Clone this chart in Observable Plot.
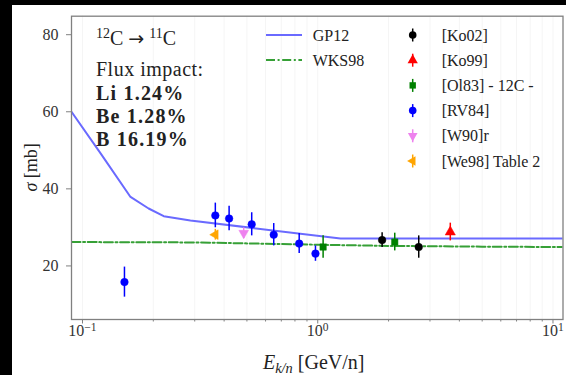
<!DOCTYPE html>
<html><head><meta charset="utf-8">
<script src="https://cdn.jsdelivr.net/npm/d3@7"></script>
<script src="https://cdn.jsdelivr.net/npm/@observablehq/plot@0.6"></script>
<style>
html,body{margin:0;padding:0;background:#000;width:566px;height:375px;overflow:hidden}
#chart{position:absolute;left:12px;top:5px;width:554px;height:370px;background:#fff}
#chart svg{display:block}
</style></head><body><div id="chart"></div>
<script>
// ---- data ----
const gp12E = [0.0898, 0.12, 0.160, 0.191, 0.2215, 0.2875, 1.249, 11.03];
const gp12S = [60, 49, 37.9, 34.9, 32.9, 31.8, 27.1, 27.1];
const wksE = [0.0898, 0.3, 1, 2, 5, 11.03];
const wksS = [26.2, 26.1, 25.5, 25.2, 25.0, 24.9];
const ko02E = [1.878, 2.687], ko02S = [26.7, 24.9], ko02Err = [1.9, 2.9];
const ko99E = [3.66], ko99S = [28.8], ko99Err = [2.3];
const ol83E = [1.054, 2.125], ol83S = [24.9, 26.2], ol83Err = [2.9, 2.3];
const rv84E = [0.1508, 0.367, 0.420, 0.524, 0.650, 0.834, 0.978];
const rv84S = [15.8, 33.1, 32.3, 30.8, 28.1, 25.8, 23.2];
const rv84Err = [3.9, 3.2, 3.2, 3.0, 2.9, 2.6, 2.0];
const w90E = [0.4845], w90S = [28.5], w90Err = [1.4];
const we98E = [0.367], we98S = [28.1], we98Err = [1.4];
const xMajor = [0.1, 1, 10];
const xMinor = [0.2,0.3,0.4,0.5,0.6,0.7,0.8,0.9,2,3,4,5,6,7,8,9];
const yTicks = [20, 40, 60, 80];
const fluxLines = ["Li 1.24%", "Be 1.28%", "B 16.19%"];

// ---- custom symbols ----
const s3 = Math.sqrt(3);
const triUp = d3.symbolTriangle;
const triLeft = {draw(ctx, size){ const y = -Math.sqrt(size/(s3*3)); ctx.moveTo(2*y,0); ctx.lineTo(-y, s3*y); ctx.lineTo(-y,-s3*y); ctx.closePath(); }};
const triDown = {draw(ctx, size){ const y = -Math.sqrt(size/(s3*3)); ctx.moveTo(0,-2*y); ctx.lineTo(s3*y, y); ctx.lineTo(-s3*y, y); ctx.closePath(); }};

const series = [
  {name:"[Ko02]", E:ko02E, S:ko02S, err:ko02Err, color:"#000000", symbol:d3.symbolCircle, r:3.8},
  {name:"[Ko99]", E:ko99E, S:ko99S, err:ko99Err, color:"#ff0000", symbol:triUp, r:3.8},
  {name:"[Ol83] - 12C -", E:ol83E, S:ol83S, err:ol83Err, color:"#008000", symbol:d3.symbolSquare, r:3.6},
  {name:"[RV84]", E:rv84E, S:rv84S, err:rv84Err, color:"#0000ff", symbol:d3.symbolCircle, r:3.8},
  {name:"[W90]r", E:w90E, S:w90S, err:w90Err, color:"#ee82ee", symbol:triDown, r:3.6},
  {name:"[We98] Table 2", E:we98E, S:we98S, err:we98Err, color:"#ffa500", symbol:triLeft, r:3.6}
];
const gp12 = gp12E.map((e,i)=>({E:e, S:gp12S[i]}));
const wks = wksE.map((e,i)=>({E:e, S:wksS[i]}));

const GP_COLOR = "#6a6aff", WKS_COLOR = "#36a036", DASH = "9,2.6,2,2.6";
const FONT = "'Liberation Serif', serif";

const marks = [
  Plot.gridX([...xMajor, ...xMinor], {stroke:"#000", strokeOpacity:0.045, strokeWidth:1}),
  Plot.line(wks, {x:"E", y:"S", stroke:WKS_COLOR, strokeWidth:2, strokeDasharray:DASH, clip:true}),
  Plot.line(gp12, {x:"E", y:"S", stroke:GP_COLOR, strokeWidth:2, clip:true})
];
for (const s of series) {
  const pts = s.E.map((e,i)=>({E:e, S:s.S[i], err:s.err[i]}));
  marks.push(Plot.ruleX(pts, {x:"E", y1:d=>d.S-d.err, y2:d=>d.S+d.err, stroke:s.color, strokeWidth:1.5}));
  marks.push(Plot.dot(pts, {x:"E", y:"S", symbol:()=>s.symbol, fill:s.color, stroke:s.color, strokeWidth:0.5, r:s.r}));
}
marks.push(
  Plot.axisX({ticks:xMinor, tickSize:2.5, tickFormat:()=>"", label:null, stroke:"#808080"}),
  Plot.axisX({ticks:xMajor, tickSize:4.5, tickPadding:0.5, label:null, stroke:"#808080", fill:"#333",
    tickFormat:d=>`10^${Math.round(Math.log10(d))}`}),
  Plot.axisY({ticks:yTicks, tickSize:5, tickPadding:8, label:null, stroke:"#808080", fill:"#333"}),
  Plot.frame({stroke:"#808080", strokeWidth:1.3})
);

const chart = Plot.plot({
  width:554, height:370,
  marginLeft:59, marginRight:3.5, marginTop:10.7, marginBottom:56,
  style:{background:"#fff", fontFamily:FONT, fontSize:"16px", color:"#333", overflow:"visible"},
  x:{type:"log", domain:[0.0898, 11.03]},
  y:{domain:[6.1, 84.8]},
  marks
});
document.getElementById("chart").appendChild(chart);

const svg = d3.select(chart);
// superscript tick labels
svg.selectAll("text").each(function(){
  const t = this.textContent;
  if (t.includes("^")) {
    const [b, e] = t.split("^");
    const el = d3.select(this); el.text(b);
    el.append("tspan").attr("dy","-0.42em").attr("font-size","0.72em").text(e.replace("-","\u2212"));
  }
});

const xs = chart.scale("x"), ys = chart.scale("y");
const fx0 = xs.range[0], fx1 = xs.range[1];
const fy0 = ys.range[1], fy1 = ys.range[0];
const g = svg.append("g").attr("font-family", FONT).attr("fill", "#222").attr("text-anchor","start");

// axis titles
const xl = g.append("text").attr("x",(fx0+fx1)/2 - 3).attr("y",364).attr("text-anchor","middle").attr("font-size",20);
xl.append("tspan").attr("font-style","italic").text("E");
xl.append("tspan").attr("font-style","italic").attr("font-size","0.72em").attr("dy","0.3em").text("k/n");
xl.append("tspan").attr("dy","-0.216em").text(" [GeV/n]");
const yl = g.append("text").attr("transform",`translate(25,${(fy0+fy1)/2}) rotate(-90)`).attr("text-anchor","middle").attr("font-size",18);
yl.append("tspan").attr("font-style","italic").text("σ");
yl.append("tspan").text(" [mb]");

// annotation
const ax = fx0 + 25;
const r1 = g.append("text").attr("x",ax).attr("y",40).attr("font-size",20);
r1.append("tspan").attr("font-size","0.7em").attr("dy","-0.5em").text("12");
r1.append("tspan").attr("dy","0.35em").text("C ");
r1.append("tspan").attr("font-family","'DejaVu Sans', sans-serif").attr("font-size","0.95em").text("\u2192");
r1.append("tspan").text(" ");
r1.append("tspan").attr("font-size","0.7em").attr("dy","-0.5em").text("11");
r1.append("tspan").attr("dy","0.35em").text("C");
g.append("text").attr("x",ax).attr("y",71).attr("font-size",20).attr("letter-spacing","0.5px").text("Flux impact:");
fluxLines.forEach((t,i)=>g.append("text").attr("x",ax).attr("y",95+i*22.8).attr("font-size",20)
  .attr("font-weight","bold").attr("letter-spacing","1.2px").text(t));

// legend: lines
const lg = svg.append("g").attr("font-family", FONT).attr("font-size",16).attr("fill","#222").attr("text-anchor","start");
lg.append("line").attr("x1",254).attr("x2",290).attr("y1",30).attr("y2",30).attr("stroke",GP_COLOR).attr("stroke-width",2);
lg.append("text").attr("x",300.7).attr("y",35.5).text("GP12");
lg.append("line").attr("x1",254).attr("x2",290).attr("y1",55).attr("y2",55).attr("stroke",WKS_COLOR).attr("stroke-width",2).attr("stroke-dasharray",DASH);
lg.append("text").attr("x",300.7).attr("y",60.5).text("WKS98");
// legend: markers
series.forEach((s,i)=>{
  const y = 30 + i*25.2;
  lg.append("line").attr("x1",400.7).attr("x2",400.7).attr("y1",y-6.5).attr("y2",y+6.5).attr("stroke",s.color).attr("stroke-width",1.5);
  lg.append("path").attr("transform",`translate(400.7,${y})`).attr("d", d3.symbol(s.symbol, Math.PI*s.r*s.r)()).attr("fill",s.color);
  lg.append("text").attr("x",429.7).attr("y",y+5.5).text(s.name);
});
</script></body></html>
